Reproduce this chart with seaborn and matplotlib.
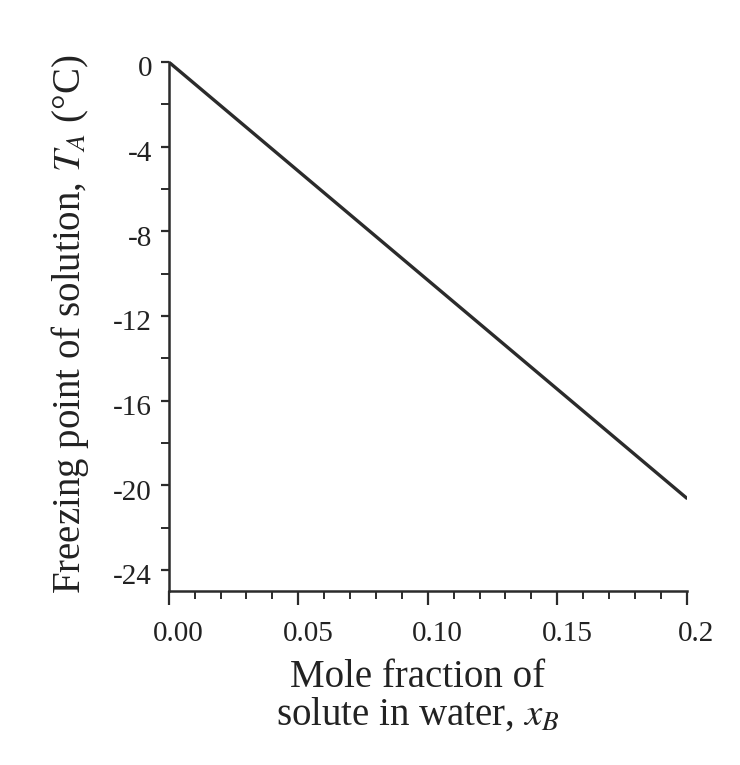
import matplotlib
matplotlib.use("Agg")
import matplotlib.pyplot as plt
import matplotlib.transforms as mtransforms
import seaborn as sns
import pandas as pd
from matplotlib.ticker import MultipleLocator, FixedLocator, FixedFormatter

# Data
mole_fraction = [0.00, 0.05, 0.10, 0.15, 0.20]
freezing_point = [0.0, -5.15, -10.3, -15.45, -20.6]
x_tick_values = [0.00, 0.05, 0.10, 0.15, 0.20]
x_tick_labels = ["0.00", "0.05", "0.10", "0.15", "0.2"]
y_tick_values = [0, -4, -8, -12, -16, -20, -24]
y_tick_labels = ["0", "-4", "-8", "-12", "-16", "-20", "-24"]

sns.set_style("ticks")
plt.rcParams['font.family'] = ['Liberation Serif', 'DejaVu Serif']
plt.rcParams['mathtext.fontset'] = 'stix'

df = pd.DataFrame({"x": mole_fraction, "T": freezing_point})

fig = plt.figure(figsize=(7.4, 7.65), dpi=100)
ax = fig.add_axes([0.228, 0.227, 0.700, 0.692])

ink = "#2b2b2b"
txt = "#222222"
sns.lineplot(data=df, x="x", y="T", ax=ax, color=ink, linewidth=2.4)

ax.set_xlim(0, 0.2)
ax.set_ylim(-25, 0)

ax.xaxis.set_major_locator(FixedLocator(x_tick_values))
ax.xaxis.set_major_formatter(FixedFormatter(x_tick_labels))
ax.xaxis.set_minor_locator(MultipleLocator(0.01))
ax.yaxis.set_major_locator(FixedLocator(y_tick_values))
ax.yaxis.set_major_formatter(FixedFormatter(y_tick_labels))
ax.yaxis.set_minor_locator(MultipleLocator(2))

for s in ["top", "right"]:
    ax.spines[s].set_visible(False)
for s in ["left", "bottom"]:
    ax.spines[s].set_linewidth(1.8)
    ax.spines[s].set_color(ink)

ax.tick_params(axis="both", which="major", direction="out", width=1.6, color=ink,
               labelsize=21, labelcolor=txt)
ax.tick_params(axis="x", which="major", length=10, pad=11)
ax.tick_params(axis="x", which="minor", length=6, width=1.4, color=ink)
ax.tick_params(axis="y", which="major", length=6, pad=6)
ax.tick_params(axis="y", which="minor", length=6, width=1.4, color=ink)

# small offsets of tick labels as in the scanned reference
dx = mtransforms.ScaledTranslation(7 / 72, 0, fig.dpi_scale_trans)
for lab in ax.get_xticklabels():
    lab.set_transform(lab.get_transform() + dx)
dy = mtransforms.ScaledTranslation(0, -3 / 72, fig.dpi_scale_trans)
for lab in ax.get_yticklabels():
    lab.set_transform(lab.get_transform() + dy)

ax.set_xlabel("Mole fraction of\nsolute in water, $x_B$", fontsize=28, color=txt,
              linespacing=1.0)
ax.xaxis.set_label_coords(0.48, -0.128, transform=ax.transAxes)
ax.xaxis.label.set_va("top")
ax.set_ylabel("Freezing point of solution, $T_A$ (°C)", fontsize=28, color=txt)
ax.yaxis.set_label_coords(-0.15, 0.505, transform=ax.transAxes)

fig.savefig("out.png", dpi=100, facecolor="white")
